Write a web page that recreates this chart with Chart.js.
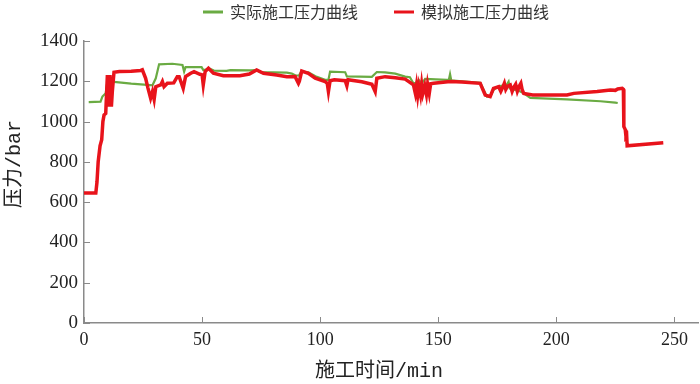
<!DOCTYPE html>
<html>
<head>
<meta charset="utf-8">
<script src="https://cdn.jsdelivr.net/npm/chart.js@4/dist/chart.umd.min.js"></script>
<style>
html,body{margin:0;padding:0;background:#fff;}
#wrap{width:700px;height:384px;}
</style>
</head>
<body>
<div id="wrap"><canvas id="c" width="700" height="384"></canvas></div>
<script>
// ---- data ----
const seriesNames = ['实际施工压力曲线', '模拟施工压力曲线'];
const xTitle = '施工时间/min';
const yTitle = '压力/bar';
const xTicks = [0, 50, 100, 150, 200, 250];
const yTicks = [0, 200, 400, 600, 800, 1000, 1200, 1400];

// actual construction pressure (green)
const actualTime = [2,7,7.8,9.2,9.9,12.7,20,26.8,29,30.4,31.8,37.4,41.7,42.4,43,46.6,49.8,50.5,53.4,55,60.4,62,70.3,73.1,74.6,85.9,88,89.4,91,92,95,98,102.1,103.5,104.2,110.6,111.3,121.9,124,127.5,131.8,136,138,139.5,140.5,141.7,143,144.5,153.7,154.5,155,155.5,160,167.8,170.6,172,173.4,175.6,179,179.8,180.3,184.8,186.2,189,204.5,218.7,225,226];
const actualPressure = [1097,1099,1124,1141,1199,1197,1188,1182,1180,1215,1284,1287,1281,1248,1270,1270,1270,1256,1262,1253,1252,1255,1254,1255,1245,1243,1238,1230,1228,1248,1245,1225,1207,1207,1248,1245,1224,1222,1246,1244,1238,1223,1220,1190,1192,1207,1190,1212,1207,1208,1235,1205,1200,1192,1124,1125,1157,1175,1182,1198,1165,1149,1140,1118,1110,1101,1094,1092];

// simulated construction pressure (red)
const simTime = [0,5,5.5,6,6.8,7.5,8,8.5,9.2,9.6,9.9,10.3,10.6,11,11.3,11.6,12,12.7,15,20,24,24.7,26.1,27,28.2,29,29.7,30.4,32.5,33.2,33.9,35.3,38,39.5,40.3,41,42,43,45.2,46.6,49.1,50,50.5,51.3,52.7,54.8,59,66,70,73.1,76,81.6,85.9,88,89.4,90.8,91.2,92.2,95,97.9,102.1,103,103.5,104.2,106,110.6,111.3,111.8,117.6,121.9,123.3,124,127.5,131.8,136,139.5,140.3,140.8,141.3,141.8,142.5,143,143.5,144.3,145,145.5,146.2,146.8,148,155.1,160,167.8,168.5,169.9,172,173.4,175.6,176.5,177.3,178,178.6,179.3,180.5,181.3,182,182.8,183.5,184.3,185,185.5,186.2,190,204.5,207.4,217.3,222.9,225,226,227.9,228.4,228.6,229.2,229.5,229.8,230,245.3];
const simPressure = [645,645,700,800,880,910,1000,1033,1040,1150,1231,1150,1082,1231,1150,1074,1150,1245,1248,1250,1254,1257,1215,1170,1116,1149,1110,1173,1182,1199,1173,1190,1192,1223,1223,1199,1165,1223,1240,1248,1235,1232,1182,1248,1265,1240,1228,1228,1236,1256,1240,1231,1223,1222,1223,1190,1201,1251,1240,1215,1199,1190,1149,1203,1208,1203,1178,1208,1198,1185,1149,1215,1223,1218,1211,1182,1140,1180,1130,1175,1132,1185,1140,1178,1135,1185,1140,1188,1190,1199,1196,1190,1170,1132,1124,1165,1173,1150,1170,1190,1160,1175,1182,1150,1170,1185,1150,1175,1190,1160,1140,1132,1132,1140,1149,1157,1155,1162,1165,1160,975,960,925,930,880,895];

const greenColor = '#6aab43';
const redColor = '#e8131b';

const toXY = (xs, ys) => xs.map((x, i) => ({x: x, y: ys[i]}));

// inward tick marks drawn from the scales
const innerTicks = {
  id: 'innerTicks',
  afterDraw(chart) {
    const {ctx, chartArea, scales} = chart;
    ctx.save();
    ctx.strokeStyle = '#8a8a8a';
    ctx.lineWidth = 1;
    ctx.beginPath();
    xTicks.forEach(v => {
      const px = Math.round(scales.x.getPixelForValue(v)) + 0.5;
      ctx.moveTo(px, chartArea.bottom);
      ctx.lineTo(px, chartArea.bottom - 6);
    });
    yTicks.forEach(v => {
      const py = Math.round(scales.y.getPixelForValue(v)) + 0.5;
      ctx.moveTo(chartArea.left, py);
      ctx.lineTo(chartArea.left + 6, py);
    });
    ctx.stroke();
    ctx.restore();
  }
};

// legend drawn at the top from dataset labels/colours
const topLegend = {
  id: 'topLegend',
  afterDraw(chart) {
    const {ctx} = chart;
    const order = [1, 0];
    const starts = [203, 394];
    ctx.save();
    ctx.font = '16px "Noto Sans CJK SC", sans-serif';
    ctx.textBaseline = 'middle';
    ctx.fillStyle = '#333';
    order.forEach((di, k) => {
      const ds = chart.data.datasets[di];
      const x0 = starts[k];
      const y0 = 12;
      ctx.strokeStyle = ds.borderColor;
      ctx.lineWidth = 3;
      ctx.beginPath();
      ctx.moveTo(x0, y0);
      ctx.lineTo(x0 + 20, y0);
      ctx.stroke();
      ctx.fillText(ds.label, x0 + 27, y0);
    });
    ctx.restore();
  }
};

const serif = "'Liberation Serif', 'DejaVu Serif', serif";
const titleFont = "'Liberation Mono', 'Noto Sans CJK SC', monospace";

new Chart(document.getElementById('c'), {
  type: 'line',
  data: {
    datasets: [
      {
        label: seriesNames[1],
        data: toXY(simTime, simPressure),
        borderColor: redColor,
        backgroundColor: redColor,
        borderWidth: 3.5,
        pointRadius: 0,
        tension: 0,
        fill: false
      },
      {
        label: seriesNames[0],
        data: toXY(actualTime, actualPressure),
        borderColor: greenColor,
        backgroundColor: greenColor,
        borderWidth: 2.2,
        pointRadius: 0,
        tension: 0,
        fill: false
      }
    ]
  },
  options: {
    responsive: false,
    animation: false,
    devicePixelRatio: 1,
    layout: {padding: {top: 41, right: 2, bottom: 0, left: 0}},
    plugins: {
      legend: {display: false},
      tooltip: {enabled: false}
    },
    scales: {
      x: {
        type: 'linear',
        min: 0,
        max: 260,
        afterBuildTicks(axis) { axis.ticks = xTicks.map(v => ({value: v})); },
        afterFit(scale) { scale.height = 61; },
        grid: {display: false, drawTicks: false},
        border: {display: true, color: '#8a8a8a', width: 1.5},
        ticks: {color: '#222', font: {family: serif, size: 18}, padding: 6, maxRotation: 0, callback: v => String(v)},
        title: {display: true, text: xTitle + '\u00a0\u00a0', color: '#222', font: {family: titleFont, size: 20}, padding: {top: 0, bottom: 0}}
      },
      y: {
        type: 'linear',
        min: 0,
        max: 1400,
        afterBuildTicks(axis) { axis.ticks = yTicks.map(v => ({value: v})); },
        afterFit(scale) { scale.width = 84; },
        grid: {display: false, drawTicks: false},
        border: {display: true, color: '#8a8a8a', width: 1.5},
        ticks: {color: '#222', font: {family: serif, size: 19}, padding: 6, callback: v => String(v)},
        title: {display: true, text: '\u00a0\u00a0\u00a0' + yTitle, color: '#222', font: {family: titleFont, size: 20}, padding: {top: 3, bottom: 0}}
      }
    }
  },
  plugins: [innerTicks, topLegend]
});
</script>
</body>
</html>
